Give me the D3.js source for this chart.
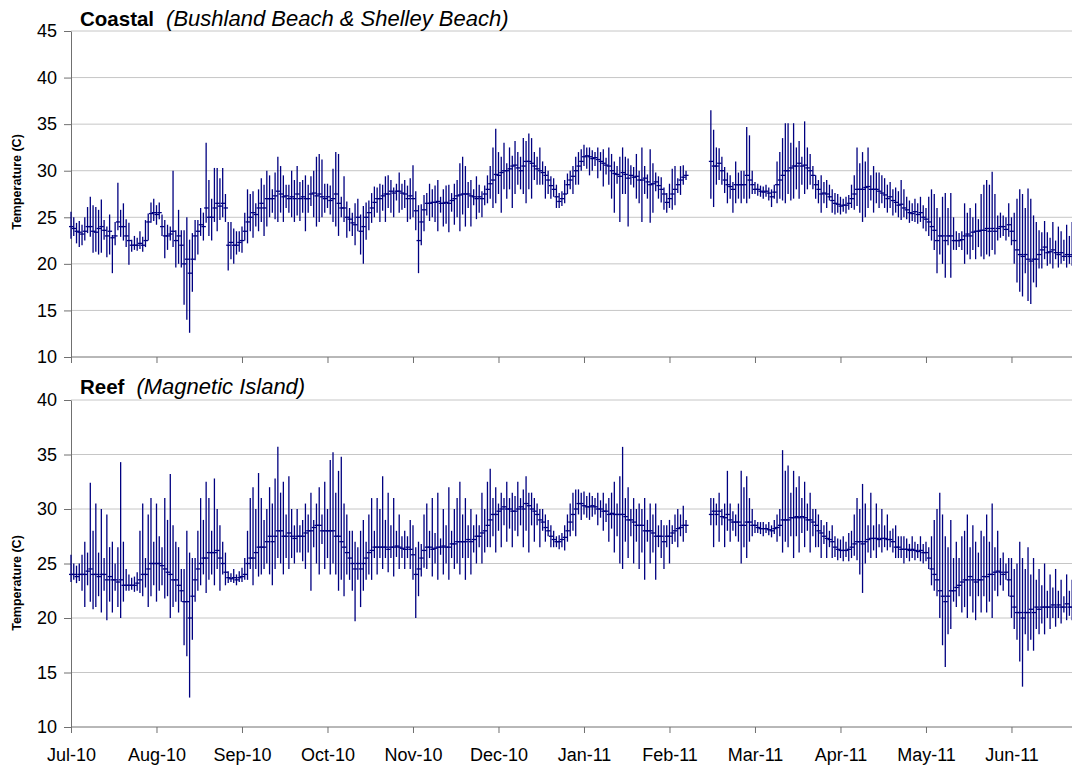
<!DOCTYPE html>
<html>
<head>
<meta charset="utf-8">
<script src="https://cdn.jsdelivr.net/npm/d3@7"></script>
<style>
  html, body { margin: 0; padding: 0; background: #fff; }
  svg { display: block; font-family: "Liberation Sans", Arial, sans-serif; }
</style>
</head>
<body>
<svg id="chart" width="1072" height="771"></svg>
<script>
// Daily water temperature, 1 Jul 2010 – 30 Jun 2011 (365 days, day 0 = 1 Jul 2010).
// Each day: daily low, daily high and a representative (closing) value.
// Days 224–231 have no logger data.

const monthLabels = ["Jul-10","Aug-10","Sep-10","Oct-10","Nov-10","Dec-10","Jan-11","Feb-11","Mar-11","Apr-11","May-11","Jun-11"];
const coastalTicks = [10,15,20,25,30,35,40,45];
const reefTicks = [10,15,20,25,30,35,40];

const coastalHigh = [
25.6,25,24.4,24.6,24.2,25,26.1,
27.2,26.3,26.1,25.8,26.9,24.7,24,25.3,23.1,24.5,28.7,25.8,26.5,24.8,24.4,
22.6,23,22.8,23.5,22.9,24.7,
25.4,26.6,27,26.3,26.6,25.3,
24.7,24.2,24,30,23.6,25.8,23.6,
23.6,25,22.6,23.3,24.7,
24.7,26,25.5,
33,29,27,30.3,30.3,29.2,30.3,27.5,
24.5,24.5,23.8,23.5,23.5,24,
25.5,28,27.5,27.8,26.5,28,
29.2,28.5,30,29.5,28,29.8,31.5,30.5,29.5,28.5,28.5,30,29,30.5,28.8,
29,29.5,28.5,29.4,30,31.5,31.8,31.2,28.6,28.6,28.4,
30.2,32,31.8,27.2,29.4,26.7,26,
25.5,26.5,27,25.3,26.2,26.6,26.8,27.6,28.3,
28.2,28.6,28.5,29.4,29.5,29,28.2,28.6,29.8,28.6,29,28.4,29.2,
30.6,27.8,26.3,26.4,27.4,
27.6,28.6,28,28.4,29,27.2,28,28.4,28.5,27.6,28.6,
29,30.8,31.5,30.5,28.8,29,28,29.4,28.5,27.8,28.4,29.5,30.5,
32.5,34.5,32,31.5,33,30.8,32.5,31.6,33.2,32,31.5,
33.5,33.2,34,33.5,32,31.5,32.5,31,30.5,30,29.4,29.2,28.5,27.6,
27.8,29,29.7,30,30.5,31.5,
32,32.3,32.8,32.5,32.5,32.2,32,32.5,32,32.3,31.4,32.5,
31.8,31,30.5,31.5,32.5,31.5,31.3,30.6,30.4,31.8,30,
32.5,30.5,29.6,32.3,30.8,29.8,29.4,29.3,28.2,
27.6,28.6,30.2,30.5,29.2,30.5,30.6,30,
null,null,null,null,null,null,null,null,
36.5,34.4,32.5,32.4,31.5,30.4,29.8,29.5,28.8,31,29.8,30,
30,34.7,33.8,30,28.8,28.6,28.4,
28.3,28.5,28.2,28,28.5,
31,32,33.5,35.1,35.1,33,35.1,32.5,33.2,31.5,35.3,32.5,31.8,30.5,29.5,
29,29.5,28.8,29,28.5,28,27.6,27.5,27.2,27,27.2,27.4,
28.5,29.5,32.5,30.8,32,31,32.5,29.5,30.5,29.8,29.8,
29.5,29.2,28.5,28.8,28,28.2,27.8,29,28,
27.2,26.8,26.5,27,26.5,27.2,26.3,26,27.2,
28,27.5,26,25,27.2,27.6,26,
27.6,25,23.5,23.3,23.5,
26.5,25.5,26,25,26.5,24.8,27.5,28.5,
29,28.5,29.9,27.5,25.2,25.5,25.2,25,26.5,
25,25.5,27,28,27.5,26,28.1,27,25.2,24.5,23.6,
23.4,24.6,23.4,22.8,24.5,22.5,24,23.5,22.6,24.2,23,24.5,22.5
];

const coastalLow = [
22.7,23,22.2,21.8,22,22.5,23.3,
22.9,21.2,21.3,21,21.2,22.6,20.7,21,19,22,23.6,22.9,22.5,21.8,19.9,
21.3,21.5,21.4,21.6,21.3,21.8,
22.5,24.4,24.6,24.2,24.8,23,
20.6,21.5,22.5,21.8,19.6,20,19.6,
15.6,14,12.6,17,20.4,
21,23,22.5,
24.4,23,22.5,24.5,23.5,24.7,25,24.5,
19.3,20.5,20,21,21.3,21.2,
22.5,22.2,23.5,22.8,24,23.5,
24.5,23,24,25,25.5,24.8,24.5,25.5,24.5,26,25.5,25,24.5,25.2,24.6,
25.5,23.5,25.5,26.2,25,24,24.5,25,25.5,26,25.3,
24.5,24,23,25,24.5,22.8,23.5,
23,22,23.5,21,20,22.6,23.6,24.4,25,
25.5,24.5,25.7,24.5,26,25.5,25,26.8,25.5,25.8,26,24.5,24.8,
25,23.6,19,22,23.5,
25.2,24.6,25,24.5,23.5,25.5,24,24.3,23.4,25.6,24.2,
25,23.5,25.3,24,26,24,26.3,24.8,25.5,25,26.3,26.5,27,
26,26.5,27.5,25.5,28,27,28,26,27.5,28.5,28,
27.5,26.5,28,27,29,28.5,28.5,28.5,27,27.5,27,27.2,26,26,
26.2,26.5,27.5,28,27.5,28.5,
28.5,30,30.5,30.2,29.5,30,30.5,29.2,30,28.3,29.6,28.5,
27,25.5,28.6,24.5,27.5,27.5,24,28.5,28.2,27,26.5,
24.5,27.5,27,24.4,25.5,27.8,27,26.6,25.8,
25.5,26,25.8,26.3,27.6,27.4,28.5,29,
null,null,null,null,null,null,null,null,
27,26.1,28.5,29,28.5,27.6,26.5,27,25.5,26.5,27,26.5,
27,26.5,27,27.5,27.5,27.3,27.2,
27,27.2,26.8,26.1,27,
26.5,27,26.8,26.5,27.5,26.8,27,28,27,28.5,27.5,28,28.5,28,27,
26.5,25.5,26.5,26,26.8,25.5,25.3,25.5,25.3,25.6,25.4,25.8,
26,25.8,26.2,25.5,24.5,25,26,26.8,25.5,26.5,26,
26.5,26,25.5,26,25.2,25.5,25,24.7,25,
24.8,24.4,24.6,24.5,24.3,24.5,23.8,23.5,23,
22.5,21.5,19,21,20,18.5,22,
18.5,21.5,21.5,21.8,21.5,
20,21,20.5,21.5,20.5,21.8,20.8,20.5,
21,20.8,21.5,21,22.5,22.8,23,22.5,22.9,
22,20,18,17,16.5,19,16,15.7,18,17.5,19.5,
19.5,20.5,19.8,20,19.5,20.5,19.6,20,20.3,19.6,20,19.8,20.2
];

const coastalClose = [
24,23.8,23.5,23.4,23.2,23.5,24,
24,23.5,23.4,23.8,24,23.6,23,23.5,22.8,23,24.5,24,24,23,22.5,
22,22,22,22.2,22,22.5,
24.5,25.4,25.5,25.3,25.5,24,
23,23,23.2,23.5,22.5,23,22,
20,20.5,19,20.5,23,
23.5,24.2,24,
26,25,25,26,26.5,26.2,26.5,26,
22,22.3,22,22,22.3,22.5,
23.5,24.5,25,25.5,25.3,26,
26.5,26,27,27,27,27.3,27.8,27.5,27.2,27.3,27,27.2,27,27.5,27,
27.2,27,27,27.5,27.6,27.3,27.5,27.2,27,27.2,26.8,
27,27.5,26.5,26,26,25,24.8,
24.4,24.2,25,23.5,24,25,25.5,26,26.6,
27,27,27.3,27.5,27.5,27.8,27.6,27.8,27.8,27.6,27.5,27,27.3,
27,25.7,22.5,24.5,25.8,
26.5,26.5,26.6,26.6,26.7,26.5,26.5,26.6,26.5,26.8,27,
27.3,27.4,27.5,27.5,27.5,27.3,27.2,27,27.2,27,27.5,28,28.6,
29,29.6,29.5,29.8,30,30,30.2,30.5,30.6,30.3,30,
30.5,31,31,30.8,30.5,30.2,30,29.8,29.5,29,28.4,28,27.2,26.7,
27,27.5,28.5,29,29.4,30,
30.5,31,31.5,31.6,31.5,31.3,31.4,31.2,31,30.8,30.6,30.5,
30,29.7,29.6,29.4,29.8,29.6,29.2,29.5,29.3,29.4,29,
29,29.2,28.8,28.5,28.6,28.8,28.4,28,27.5,
26.6,27,27.5,28,28.5,29,29.3,29.5,
null,null,null,null,null,null,null,null,
31,30.5,30.5,30.8,30,29,28.5,28.3,28,28.5,28.5,28.5,
28.5,29.5,29,28.5,28,28,27.8,
27.7,27.8,27.6,27.2,27.7,
28.5,29,29.5,30,30,30.3,30.5,30.5,30.8,30.5,30.6,30.3,30,29.5,28.5,
28,27.5,27.6,27.5,27.2,26.8,26.5,26.4,26.2,26.3,26.3,26.5,
27,27.5,28,28,28,28.2,28.3,28,28,28,27.8,
27.6,27.4,27,27.2,26.8,26.6,26.3,26.4,26,
25.8,25.5,25.4,25.6,25.3,25.5,25,24.8,24.5,
24,23.6,22.5,23,23,22.5,23,
23,22.5,22.5,22.5,22.6,
23,23.2,23,23.4,23.5,23.5,23.6,23.6,
23.8,23.5,23.8,23.5,23.8,24,24,23.7,24.2,
23.5,22.5,21.5,21,20.8,21,20.5,20.3,20.5,20.5,21,
21.5,21.8,21.2,21.3,21.5,21.2,21,21.2,20.8,21,20.8,21,21
];

const reefHigh = [
25.8,25,24.8,25,25.8,27,26,
32.4,28,30.5,26,30,25.5,29.5,26.5,27,25,26.5,34.3,27,24.5,
24,23.7,23.8,24.2,28,30.5,25.5,
29.5,31,27,30.5,27.5,26.5,
31,29,33.2,28.5,27,26.5,24.5,
24.5,28,26,25.5,25.5,
28,31,29,32.5,31,28,32.8,30,28.5,27,26,
24.3,24.1,24.5,24,24.3,24.6,25.5,
28,31,32,30,33.3,31,29,30,
32,30.5,32.8,35.7,31.5,32.5,29.5,33,30,28.5,30,28.5,
29,30.5,29.5,31.5,29,30.5,32,29.5,32.5,30,34.5,
35.2,31.5,33.5,34.8,30.5,29.5,28,
28,27,26.5,28,29,27,29.5,31,28,
31,30,33,29,31.5,28.5,31,28,29.5,27.5,28,27.5,29,
28.5,26.5,27,26.8,29.5,
30.5,28,31,27.8,31.5,27.3,30,28.5,32,28,30,
31,32.5,29.5,31,28.5,30,28.5,29.5,28.5,31.5,30,32.5,33.7,
31,32,30.5,31.5,31,32.5,31,31.5,31.2,32.5,31,
31.8,33,31.5,31.5,31,30.5,30,30,29.5,29,28.5,28,27.5,27.6,
27.8,28.5,29.5,30.5,31.5,31.8,
31.8,31.5,31.6,31.2,31.5,31.2,31,31.5,30.8,31.5,30.5,31,
31.5,32.5,30.5,33,35.7,31,32,30,31,30,30.5,
30,31,29,30.5,29.5,30.5,28.5,29,28.5,
28.5,29,28.5,29.5,30,29.5,30.3,29,
null,null,null,null,null,null,null,null,
31,31,30.5,31.5,30,30.5,33.5,30.5,29.8,29.5,30.5,
33.5,32,33,31,30,29,28.8,28.8,
28.8,28.6,28.8,28.5,29,29.5,30,
35.4,33.5,34,31.5,33.5,32,33,31,32.5,30.5,31.5,30,30,
29.5,29,28.5,28.8,28,28.5,27.5,27.3,27.2,27.5,27,27.8,
28,29.5,31,30,32.3,30.5,28.5,31.5,28.5,30.5,28.6,
30,28.5,29.5,28,28.2,28.5,27.5,27.5,27.5,
27.3,26.8,27.5,27,26.8,27.5,26.8,27,26.5,
27.5,29,30,31.5,29.5,27.5,26.5,
29,25.5,27,25.5,27.5,
28,29.5,26.5,28.5,27,26,28,27.5,
29.5,27,30.5,26.5,28,25.5,26,25,25.5,
25.5,24.5,25,27,25.5,24.5,26.5,24,25.5,23.5,24.5,
23,25,22.5,24,22.8,24.5,22.5,23.5,22,24,22.5,23.5,24.2
];

const reefLow = [
23.3,23.5,23.2,23.4,22.5,21,23,
21.5,20.8,21,22,20.5,22.5,19.8,21.5,20.5,22.5,21,20,21.5,22.5,
22.5,22.6,22.4,22.5,22.3,22,22.8,
21,22,23,21.5,22.5,23,
21.8,22,20,21,21.5,20.5,21.5,
17.5,16.5,12.7,18,21.5,
22.5,23,24,22.3,23.5,24,23,24.5,22.5,24,23,
23.2,23.3,23.2,23,23.3,23.3,23.5,
23.5,24.5,23,24.5,23.8,24,24.5,25,
24,23,24.5,25.5,25,24,25.5,24.5,25.5,25,26,26,
25.2,24.5,26,22.5,26.5,25,24,26.8,24.5,25.5,24,
25,24,22.5,23.5,22,24,23.5,
22.5,19.7,23.5,21,22.5,23.5,24,23.5,25.5,
24,25.5,24.5,25.5,24.2,25.5,23.8,25.6,24.5,25.5,24.5,25.5,24.5,
23.5,20,22,23.8,24.6,
24.5,25.5,23.8,25,23.5,25.8,24,25,23.5,25.5,24.5,
25,24,25.5,23.5,25.5,24,26,25,26.5,25,26,26.5,26.5,
27.5,26,28,26.5,28.5,27,28.2,26.5,28,27.5,28.5,
26.5,28,26,28.5,27,28.5,26.5,28,27,27.5,26.5,26.5,26.5,26.3,
26.5,26.2,27,27.5,28,27.5,
29.5,29,29.5,29.2,29,29.3,29.5,28.5,29.2,28,28.8,27,
28.2,26,27.5,25,24.5,27,25.5,27.5,25,27,24.5,
26,23.5,27,25,26,23.5,26.5,25.5,24.5,
26.5,25,26.8,27,26.5,27.5,27,27.8,
null,null,null,null,null,null,null,null,
28.5,26.5,28.5,27,28.5,26.5,28,27,28,27.5,27,
25,26.5,25.5,27,27.5,27.8,27.8,27.7,
27.5,27.8,27.6,27.4,27.7,27,27.5,
26,27,26.5,27.5,25.5,27.5,26,27.8,26.5,28,26,27.5,26.5,
26.5,25.5,26.8,25.5,26.5,25.5,25.6,25.3,25.5,25.2,25.6,25.2,
25.5,25.7,25.3,24,22.3,25,26,25.5,26.2,25.5,26.5,
26,26.5,26.2,26.5,26,25.5,25.5,25.5,25,
25.5,25.2,25.5,25.3,25.5,25.2,25,25.2,24.5,
23,22.5,22,20,17.5,15.5,18.5,
19,21.5,21,22,20.5,
21,20,22,20.5,19.8,22,20.5,22,
20.5,21.5,20,22.5,22,23,22.5,23.5,22,
20,19,18,16,13.7,18.5,17,18,17,19,18.5,
19.5,18.5,20,19,20,19.2,20,19.5,20.5,19.8,20.2,19.8,20
];

const reefClose = [
24,24,23.8,24,24,24,24.3,
24.5,24,24,23.8,24,24,23.5,23.8,23.5,23.5,23.3,23.5,23,23,
23,23,23,23.2,23.5,24,24,
24.5,25,25,25,25,24.8,
24.5,24.2,24,23.5,23.5,23,22.5,
21.5,21.5,20,22,23.5,
24.5,25,25.5,25.5,26,26,26,26.2,25.5,25,24.2,
23.7,23.6,23.7,23.5,23.7,23.8,24,
25,25.5,25.5,26,26.5,26.5,26.5,27,
27.5,27,27.5,28,28,27.5,27.5,27.8,27.5,27.3,27.5,27.5,
27.5,27.8,28,28,28.3,28.5,28.5,28,28,28,28,
28,27.5,27.5,27,26.5,26,25.5,
25,24.5,25,24.5,25,25.5,26,26.2,26.5,
26.5,26.5,26.5,26.5,26.3,26.5,26.5,26.6,26.5,26.4,26.3,26.5,26.3,
25.8,24,24.5,25.5,26.2,
26.5,26.5,26.3,26.4,26.5,26.5,26.6,26.5,26.5,26.8,26.8,
27,27,27,27,27.2,27,27.2,27.5,27.5,27.8,28,28.5,29,
29.5,29.5,29.8,30,30.2,30,30,29.8,29.8,30,30.2,
30,30.5,30.3,30,29.8,29.5,29,28.8,28.3,28,27.5,27.2,27,27,
27.2,27.4,28,28.8,29.5,30,
30.5,30.5,30.3,30.2,30.2,30.3,30.2,30,30,29.8,29.8,29.5,
29.6,29.5,29.5,29.5,29.5,29.3,29,29,28.8,28.5,28.5,
28.5,28,28,28,27.8,27.5,27.5,27.5,27,
27.5,27.5,27.8,28,28.2,28.3,28.5,28.5,
null,null,null,null,null,null,null,null,
29.5,29.8,29.5,29.8,29.3,29.2,29.5,29,28.8,28.8,28.8,
28.5,28.5,28.8,28.8,28.5,28.5,28.3,28.2,
28.2,28.2,28.1,28,28.2,28.3,28.5,
29,29,29,29.2,29.2,29.3,29.2,29.3,29.2,29,29,28.8,28.5,
28,27.8,27.5,27.3,27.2,27,26.5,26.3,26.2,26.2,26.2,26.3,
26.5,26.8,27,27,26.8,27,27.2,27.3,27.3,27.3,27.2,
27.3,27.3,27.2,27.2,27,26.5,26.5,26.3,26.3,
26.3,26.2,26.3,26.2,26.1,26.2,26,26,25.5,
24.5,24,23.5,22.5,22,21.5,22,
22.5,22.5,22.8,23,23.3,
23.5,23.5,23.8,23.5,23.3,23.5,23.5,23.8,
23.8,24,24,24.2,24.3,24.2,24,24.2,23.5,
22,21,20.5,20.5,20,20.5,20.5,20.8,20.5,21,20.8,
21,21,21,21,21.2,21,21.2,21,21,21.3,21,21,21.2
];

// ---- layout ----
const svg = d3.select("#chart");
const NAVY = "#000080";
const dayCount = 365;
const tickDays = monthLabels.map((_, i) => i * 31);   // one category tick every 31 days

const x = d3.scaleLinear().domain([0, dayCount]).range([71, 71 + dayCount * 2.758]);

const panels = [
  { bold: "Coastal", italic: "(Bushland Beach & Shelley Beach)", titleY: 26,
    high: coastalHigh, low: coastalLow, close: coastalClose,
    y: d3.scaleLinear().domain([10, 45]).range([357, 31]), ticks: coastalTicks,
    xLabels: false, axisTitleY: 182 },
  { bold: "Reef", italic: "(Magnetic Island)", titleY: 394,
    high: reefHigh, low: reefLow, close: reefClose,
    y: d3.scaleLinear().domain([10, 40]).range([727, 400]), ticks: reefTicks,
    xLabels: true, axisTitleY: 583 }
];

panels.forEach(p => {
  const g = svg.append("g");
  const [yBottom] = p.y.range();
  const plotRight = 1072;

  // horizontal gridlines
  g.append("g")
    .selectAll("line")
    .data(p.ticks.slice(1))
    .join("line")
    .attr("x1", 71).attr("x2", plotRight)
    .attr("y1", d => p.y(d)).attr("y2", d => p.y(d))
    .attr("stroke", "#c6c6c6").attr("stroke-width", 1);

  // y axis
  const yAxis = g.append("g")
    .attr("transform", "translate(71,0)")
    .call(d3.axisLeft(p.y).tickValues(p.ticks).tickSize(7).tickPadding(7).tickSizeOuter(0));
  yAxis.select(".domain").attr("stroke", "#707070");
  yAxis.selectAll(".tick line").attr("stroke", "#707070");
  yAxis.selectAll("text").attr("font-size", 18).attr("fill", "#000")
    .attr("font-family", "'Liberation Sans', Arial, sans-serif");

  // x axis
  const xAxis = g.append("g")
    .attr("transform", `translate(0,${yBottom})`)
    .call(d3.axisBottom(x).tickValues(tickDays)
      .tickFormat((d, i) => p.xLabels ? monthLabels[i] : "")
      .tickSize(6).tickPadding(15).tickSizeOuter(0));
  xAxis.select(".domain").attr("d", `M71,0H${plotRight}`).attr("stroke", "#707070");
  xAxis.selectAll(".tick line").attr("stroke", "#707070");
  xAxis.selectAll("text").attr("font-size", 18).attr("fill", "#000")
    .attr("font-family", "'Liberation Sans', Arial, sans-serif");

  // axis title
  g.append("text")
    .attr("transform", `translate(21,${p.axisTitleY}) rotate(-90)`)
    .attr("text-anchor", "middle")
    .attr("font-size", 12.5).attr("font-weight", "bold")
    .text("Temperature (C)");

  // panel title
  const t = g.append("text").attr("x", 80).attr("y", p.titleY);
  t.append("tspan").attr("font-size", 20.5).attr("font-weight", "bold").text(p.bold);
  t.append("tspan").attr("font-size", 22).attr("font-style", "italic").attr("dx", 12).text(p.italic);

  // daily high-low bars with close markers
  const days = d3.range(dayCount).filter(i => p.high[i] != null);
  const marks = g.append("g").attr("stroke", NAVY).attr("stroke-width", 1.3);
  marks.selectAll("line.hl")
    .data(days)
    .join("line").attr("class", "hl")
    .attr("x1", i => x(i)).attr("x2", i => x(i))
    .attr("y1", i => p.y(p.low[i])).attr("y2", i => p.y(p.high[i]));
  marks.selectAll("line.cl")
    .data(days)
    .join("line").attr("class", "cl")
    .attr("x1", i => x(i) - 2).attr("x2", i => x(i) + 2.5)
    .attr("y1", i => p.y(p.close[i])).attr("y2", i => p.y(p.close[i]));
});
</script>
</body>
</html>
